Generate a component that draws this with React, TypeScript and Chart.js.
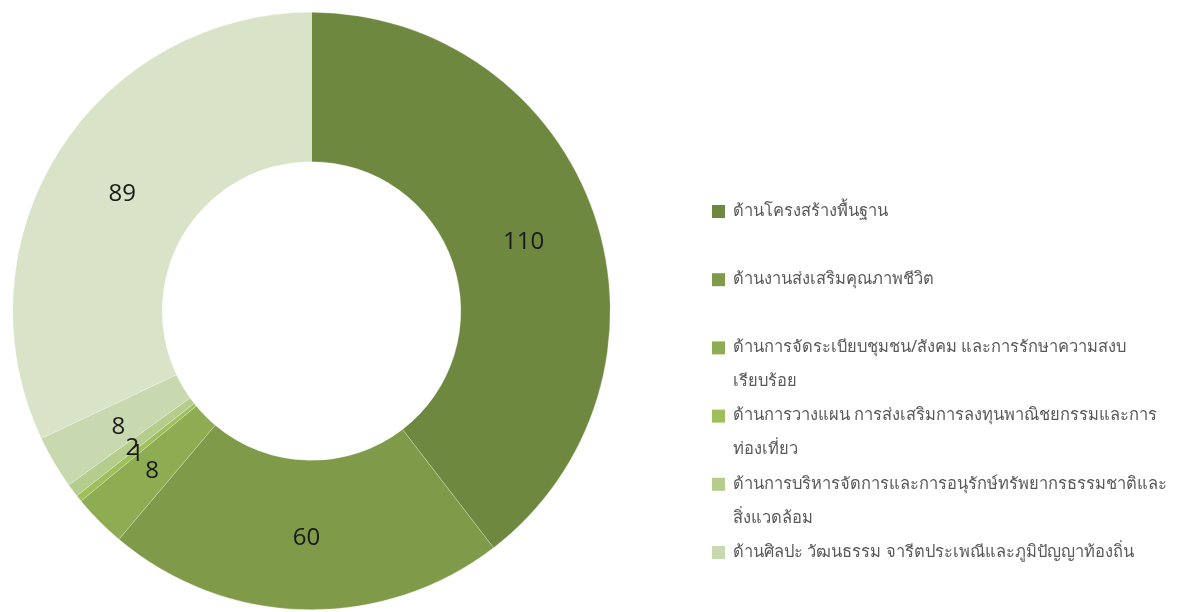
import React, { useEffect, useRef } from "react";
import { Chart, registerables } from "chart.js";

Chart.register(...registerables);

const categories = [
  "ด้านโครงสร้างพื้นฐาน",
  "ด้านงานส่งเสริมคุณภาพชีวิต",
  "ด้านการจัดระเบียบชุมชน/สังคม และการรักษาความสงบเรียบร้อย",
  "ด้านการวางแผน การส่งเสริมการลงทุนพาณิชยกรรมและการท่องเที่ยว",
  "ด้านการบริหารจัดการและการอนุรักษ์ทรัพยากรธรรมชาติและสิ่งแวดล้อม",
  "ด้านศิลปะ วัฒนธรรม จารีตประเพณีและภูมิปัญญาท้องถิ่น",
  "",
];
const values = [110, 60, 8, 1, 2, 8, 89];
const colors = ["#6E883F", "#7F9A48", "#8EAD53", "#9DC05B", "#B4CC8C", "#C8D8AF", "#D9E3C8"];
const legendLines = [
  ["ด้านโครงสร้างพื้นฐาน"],
  ["ด้านงานส่งเสริมคุณภาพชีวิต"],
  ["ด้านการจัดระเบียบชุมชน/สังคม และการรักษาความสงบ", "เรียบร้อย"],
  ["ด้านการวางแผน การส่งเสริมการลงทุนพาณิชยกรรมและการ", "ท่องเที่ยว"],
  ["ด้านการบริหารจัดการและการอนุรักษ์ทรัพยากรธรรมชาติและ", "สิ่งแวดล้อม"],
  ["ด้านศิลปะ วัฒนธรรม จารีตประเพณีและภูมิปัญญาท้องถิ่น"],
];

const valueLabels = {
  id: "valueLabels",
  afterDatasetsDraw(chart: any) {
    const ctx = chart.ctx;
    const meta = chart.getDatasetMeta(0);
    ctx.save();
    ctx.font = "24px 'Open Sans', sans-serif";
    ctx.fillStyle = "#1a1a1a";
    ctx.textAlign = "center";
    ctx.textBaseline = "middle";
    meta.data.forEach((arc: any, i: number) => {
      const p = arc.tooltipPosition();
      ctx.fillText(String(values[i]), p.x, p.y + 3);
    });
    ctx.restore();
  },
};

const sideLegend = {
  id: "sideLegend",
  afterDraw(chart: any) {
    const ctx = chart.ctx;
    ctx.save();
    const x0 = 712;
    let y0 = 211;
    ctx.textBaseline = "middle";
    ctx.textAlign = "left";
    ctx.font = "16.5px Tahoma, 'Noto Sans', sans-serif";
    legendLines.forEach((lines, i) => {
      ctx.fillStyle = colors[i];
      ctx.fillRect(x0, y0 - 6, 13, 13);
      ctx.fillStyle = "#595959";
      lines.forEach((ln, j) => {
        ctx.fillText(ln, x0 + 21, y0 + j * 34);
      });
      y0 += 68.2;
    });
    ctx.restore();
  },
};

export default function App() {
  const ref = useRef<HTMLCanvasElement>(null);
  useEffect(() => {
    if (!ref.current) return;
    const chart = new Chart(ref.current, {
      type: "doughnut",
      data: {
        labels: categories,
        datasets: [
          {
            data: values,
            backgroundColor: colors,
            borderColor: "rgba(255,255,255,0.4)",
            borderWidth: 0.6,
          },
        ],
      },
      options: {
        animation: false,
        responsive: false,
        cutout: "50%",
        rotation: 0,
        layout: { padding: { left: 12, right: 567, top: 12, bottom: 2 } },
        plugins: {
          legend: { display: false },
          tooltip: { enabled: false },
        },
      },
      plugins: [valueLabels, sideLegend],
    });
    return () => chart.destroy();
  }, []);
  return (
    <div style={{ position: "absolute", left: 0, top: 0, width: 1178, height: 612 }}>
      <canvas ref={ref} width={1178} height={612} style={{ width: 1178, height: 612 }} />
    </div>
  );
}
